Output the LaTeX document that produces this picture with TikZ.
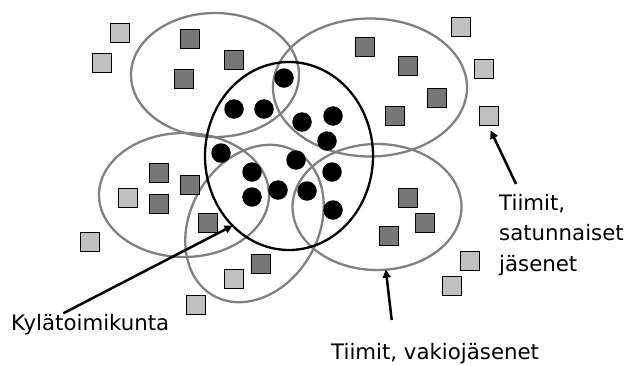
\documentclass[tikz,border=0pt]{standalone}
\usepackage{fontspec}
\setmainfont{DejaVu Sans}
\usetikzlibrary{shapes.geometric,arrows.meta}
\definecolor{teamgrey}{RGB}{128,128,128}
\definecolor{darksq}{RGB}{119,119,119}
\definecolor{lightsq}{RGB}{192,192,192}
\begin{document}
\begin{tikzpicture}[x=1bp,y=-1bp,
  team/.style={ellipse,draw=teamgrey,line width=2.3bp,inner sep=0pt,outer sep=0pt},
  village/.style={ellipse,draw=black,line width=2.3bp,inner sep=0pt,outer sep=0pt},
  member/.style={rectangle,draw=black,line width=0.9bp,fill=darksq,minimum size=19bp,inner sep=0pt},
  guest/.style={rectangle,draw=black,line width=0.9bp,fill=lightsq,minimum size=19bp,inner sep=0pt},
  villager/.style={circle,fill=black,minimum size=19.5bp,inner sep=0pt},
  arr/.style={line width=2.5bp,-{Triangle[length=8bp,width=8bp]}},
  lbl/.style={font=\fontsize{21.3bp}{30.5bp}\selectfont,inner sep=0pt,align=left}]
\useasboundingbox (0,0) rectangle (643,365);
% teams
\node[team,minimum width=168bp,minimum height=124bp] (eTL) at (215,75) {};
\node[team,minimum width=194bp,minimum height=138bp] (eTR) at (370,87.5) {};
\node[team,minimum width=170bp,minimum height=124bp] (eLM) at (184,195) {};
\node[team,minimum width=169bp,minimum height=126bp] (eBR) at (377,207) {};
\node[team,minimum width=128bp,minimum height=166bp,rotate=-30] (eLow) at (254.5,223.5) {};
% village committee
\node[village,minimum width=168bp,minimum height=188bp] (kyla) at (289,156) {};
% squares
\node[guest] (g1) at (120,33) {};
\node[guest] (g2) at (102,63) {};
\node[member] (m1) at (190,39) {};
\node[member] (m2) at (234,60) {};
\node[member] (m3) at (184,78.5) {};
\node[member] (m4) at (364.5,47) {};
\node[member] (m5) at (408,66) {};
\node[member] (m6) at (437,98) {};
\node[member] (m7) at (395,116) {};
\node[guest] (g3) at (460.5,27) {};
\node[guest] (g4) at (484,69) {};
\node[guest] (g5) at (488.5,116) {};
\node[member] (m8) at (159,173) {};
\node[member] (m9) at (159,204) {};
\node[member] (m10) at (190,185) {};
\node[member] (m11) at (207.7,223) {};
\node[guest] (g6) at (128,198) {};
\node[guest] (g7) at (90,242) {};
\node[member] (m12) at (261,264) {};
\node[guest] (g8) at (234,279) {};
\node[guest] (g9) at (196,304.5) {};
\node[member] (m13) at (408,198) {};
\node[member] (m14) at (425,223) {};
\node[member] (m15) at (389,235.5) {};
\node[guest] (g10) at (470,260.5) {};
\node[guest] (g11) at (451.5,285.5) {};
% dots
\foreach \p [count=\i] in {(284,78),(234,109),(264,109),(302,122),(333,116),(327,141),(221,153),(296,160),(332,172),(252,172),(252,197),(278,190),(307,191),(333,210)}
  \node[villager] (d\i) at \p {};
% labels
\node[lbl,anchor=base west] (tKyla) at (11,330) {Kylätoimikunta};
\node[lbl,anchor=base west] (tVakio) at (331,359.5) {Tiimit, vakiojäsenet};
\node[lbl,anchor=base west] (tSat) at (499,271) {Tiimit,\\satunnaiset\\jäsenet};
% arrow tails
\coordinate (cKyla) at (63.3,313.3);
\coordinate (cVakio) at (391.7,320);
\coordinate (cSat) at (516,184);
\draw[arr] (cKyla) -- (kyla.231);
\draw[arr] (cVakio) -- (eBR.278);
\draw[arr,shorten >=5bp] (cSat) -- (g5.south);
\end{tikzpicture}
\end{document}
